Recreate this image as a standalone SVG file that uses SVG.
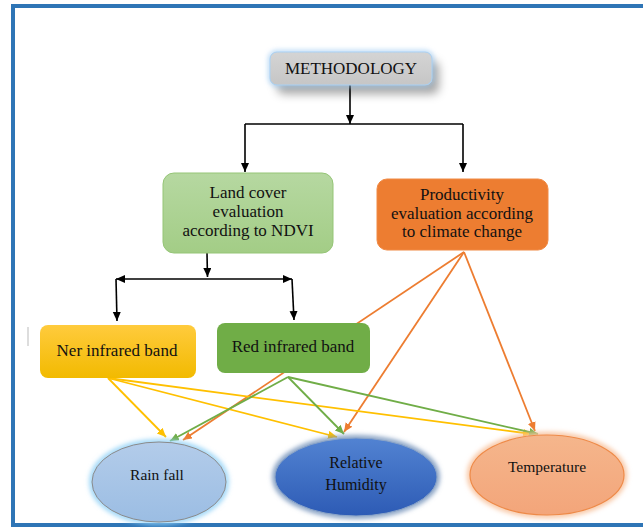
<svg xmlns="http://www.w3.org/2000/svg" width="643" height="527" viewBox="0 0 643 527">
<defs>
<marker id="ab" markerUnits="userSpaceOnUse" markerWidth="10" markerHeight="10" refX="9" refY="4" orient="auto"><path d="M0,0 L9,4 L0,8 z" fill="#000"/></marker>
<marker id="ay" markerUnits="userSpaceOnUse" markerWidth="10" markerHeight="10" refX="9" refY="4" orient="auto"><path d="M0,0 L9,4 L0,8 z" fill="#FFC000"/></marker>
<marker id="ag" markerUnits="userSpaceOnUse" markerWidth="10" markerHeight="10" refX="9" refY="4" orient="auto"><path d="M0,0 L9,4 L0,8 z" fill="#70AD47"/></marker>
<marker id="ao" markerUnits="userSpaceOnUse" markerWidth="10" markerHeight="10" refX="9" refY="4" orient="auto"><path d="M0,0 L9,4 L0,8 z" fill="#ED7D31"/></marker>
<filter id="shadow" x="-20%" y="-40%" width="150%" height="220%"><feDropShadow dx="7" dy="9" stdDeviation="5" flood-color="#000" flood-opacity="0.35"/></filter>
<filter id="glow" x="-20%" y="-30%" width="140%" height="160%"><feGaussianBlur stdDeviation="2.5"/></filter>
<linearGradient id="gMeth" x1="0" y1="0" x2="0" y2="1"><stop offset="0" stop-color="#D4D4D4"/><stop offset="1" stop-color="#C6C6C6"/></linearGradient>
<linearGradient id="gLand" x1="0" y1="0" x2="0" y2="1"><stop offset="0" stop-color="#B6D8A1"/><stop offset="1" stop-color="#A3CD86"/></linearGradient>
<linearGradient id="gNer" x1="0" y1="0" x2="0" y2="1"><stop offset="0" stop-color="#FFCB3D"/><stop offset="1" stop-color="#F2BA00"/></linearGradient>
<linearGradient id="gRain" x1="0" y1="0" x2="0" y2="1"><stop offset="0" stop-color="#B3CCEA"/><stop offset="1" stop-color="#9BBDE3"/></linearGradient>
<linearGradient id="gHum" x1="0" y1="0" x2="0" y2="1"><stop offset="0" stop-color="#5283D2"/><stop offset="1" stop-color="#2D5BB5"/></linearGradient>
<linearGradient id="gTemp" x1="0" y1="0" x2="0" y2="1"><stop offset="0" stop-color="#F5B68C"/><stop offset="1" stop-color="#F3A57A"/></linearGradient>
</defs>
<rect x="0" y="0" width="643" height="527" fill="#fff"/>
<rect x="13" y="6" width="640" height="519" fill="none" stroke="#2E75B6" stroke-width="4"/>
<line x1="28" y1="327" x2="28" y2="346" stroke="#BBBBBB" stroke-width="1"/>

<g id="connectors" fill="none">
<g stroke="#000" stroke-width="1.6">
<line x1="350" y1="85" x2="350" y2="124" marker-end="url(#ab)"/>
<line x1="245" y1="124" x2="463" y2="124"/>
<line x1="245" y1="124" x2="245" y2="172" marker-end="url(#ab)"/>
<line x1="463" y1="124" x2="463" y2="172" marker-end="url(#ab)"/>
<line x1="207" y1="253" x2="207.5" y2="277" marker-end="url(#ab)"/>
<line x1="207" y1="279" x2="116" y2="279" marker-end="url(#ab)"/>
<line x1="207" y1="279" x2="292" y2="279" marker-end="url(#ab)"/>
<line x1="116" y1="279" x2="117" y2="321" marker-end="url(#ab)"/>
<line x1="292" y1="279" x2="294" y2="320" marker-end="url(#ab)"/>
</g>
<line x1="207" y1="237" x2="207" y2="253" stroke="#555" stroke-width="1.2"/>
<g stroke="#ED7D31" stroke-width="1.8" marker-end="url(#ao)">
<line x1="464" y1="252" x2="183" y2="440"/>
<line x1="464" y1="252" x2="344" y2="432"/>
<line x1="464" y1="252" x2="535" y2="431"/>
</g>
<g stroke="#FFC000" stroke-width="1.8" marker-end="url(#ay)">
<line x1="108" y1="378" x2="166" y2="437"/>
<line x1="108" y1="378" x2="337" y2="437"/>
<line x1="108" y1="378" x2="532" y2="434"/>
</g>
<g stroke="#70AD47" stroke-width="1.8" marker-end="url(#ag)">
<line x1="288" y1="377" x2="170" y2="441"/>
<line x1="288" y1="377" x2="344" y2="434"/>
<line x1="288" y1="377" x2="538" y2="434"/>
</g>
</g>

<g id="methodology">
<rect x="270" y="52" width="162" height="33" rx="7" fill="url(#gMeth)" filter="url(#shadow)"/>
<rect x="270" y="52" width="162" height="33" rx="7" fill="none" stroke="#9FCBF2" stroke-width="3" filter="url(#glow)"/>
<rect x="270" y="52" width="162" height="33" rx="7" fill="url(#gMeth)" stroke="#A9D1F4" stroke-width="1"/>
<text x="351" y="74" font-size="17" fill="#111" text-anchor="middle" font-family="Liberation Serif">METHODOLOGY</text>
</g>

<g id="land-cover">
<rect x="163" y="173" width="170" height="80" rx="11" fill="url(#gLand)" stroke="#95C577" stroke-width="1"/>
<text x="248" y="198" font-size="17" fill="#111" text-anchor="middle" font-family="Liberation Serif">Land cover</text>
<text x="248" y="217" font-size="17" fill="#111" text-anchor="middle" font-family="Liberation Serif">evaluation</text>
<text x="248" y="236" font-size="17" fill="#111" text-anchor="middle" font-family="Liberation Serif">according to NDVI</text>
</g>

<g id="productivity">
<rect x="377" y="179" width="171" height="71" rx="10" fill="#ED7D31" stroke="#F08A45" stroke-width="1"/>
<text x="462" y="200" font-size="17" fill="#111" text-anchor="middle" font-family="Liberation Serif">Productivity</text>
<text x="462" y="219" font-size="17" fill="#111" text-anchor="middle" font-family="Liberation Serif">evaluation according</text>
<text x="462" y="237" font-size="17" fill="#111" text-anchor="middle" font-family="Liberation Serif">to climate change</text>
</g>

<g id="ner-band">
<rect x="40" y="325" width="156" height="53" rx="8" fill="url(#gNer)"/>
<text x="117" y="356" font-size="17" fill="#111" text-anchor="middle" font-family="Liberation Serif">Ner infrared band</text>
</g>

<g id="red-band">
<rect x="217" y="323" width="153" height="50" rx="8" fill="#70AD47"/>
<text x="293" y="352" font-size="17" fill="#111" text-anchor="middle" font-family="Liberation Serif">Red infrared band</text>
</g>

<g id="rain-fall">
<ellipse cx="159" cy="482" rx="67" ry="40" fill="none" stroke="#8FD0F7" stroke-width="5" filter="url(#glow)"/>
<ellipse cx="159" cy="482" rx="67" ry="40" fill="url(#gRain)" stroke="#8A8A8A" stroke-width="1"/>
<text x="157" y="480" font-size="15.5" fill="#111" text-anchor="middle" font-family="Liberation Serif">Rain fall</text>
</g>

<g id="humidity">
<ellipse cx="356" cy="477" rx="81" ry="39" fill="none" stroke="#6F8FB8" stroke-width="5" filter="url(#glow)"/>
<ellipse cx="356" cy="477" rx="81" ry="39" fill="url(#gHum)" stroke="#8AA4C8" stroke-width="1"/>
<text x="356" y="468" font-size="16" fill="#111" text-anchor="middle" font-family="Liberation Serif">Relative</text>
<text x="356" y="490" font-size="16" fill="#111" text-anchor="middle" font-family="Liberation Serif">Humidity</text>
</g>

<g id="temperature">
<ellipse cx="547" cy="475" rx="77" ry="40" fill="none" stroke="#F8C4A0" stroke-width="6" filter="url(#glow)"/>
<ellipse cx="547" cy="475" rx="77" ry="40" fill="url(#gTemp)" stroke="#EE8A48" stroke-width="1.2"/>
<text x="547" y="472" font-size="15.5" fill="#111" text-anchor="middle" font-family="Liberation Serif">Temperature</text>
</g>
</svg>
